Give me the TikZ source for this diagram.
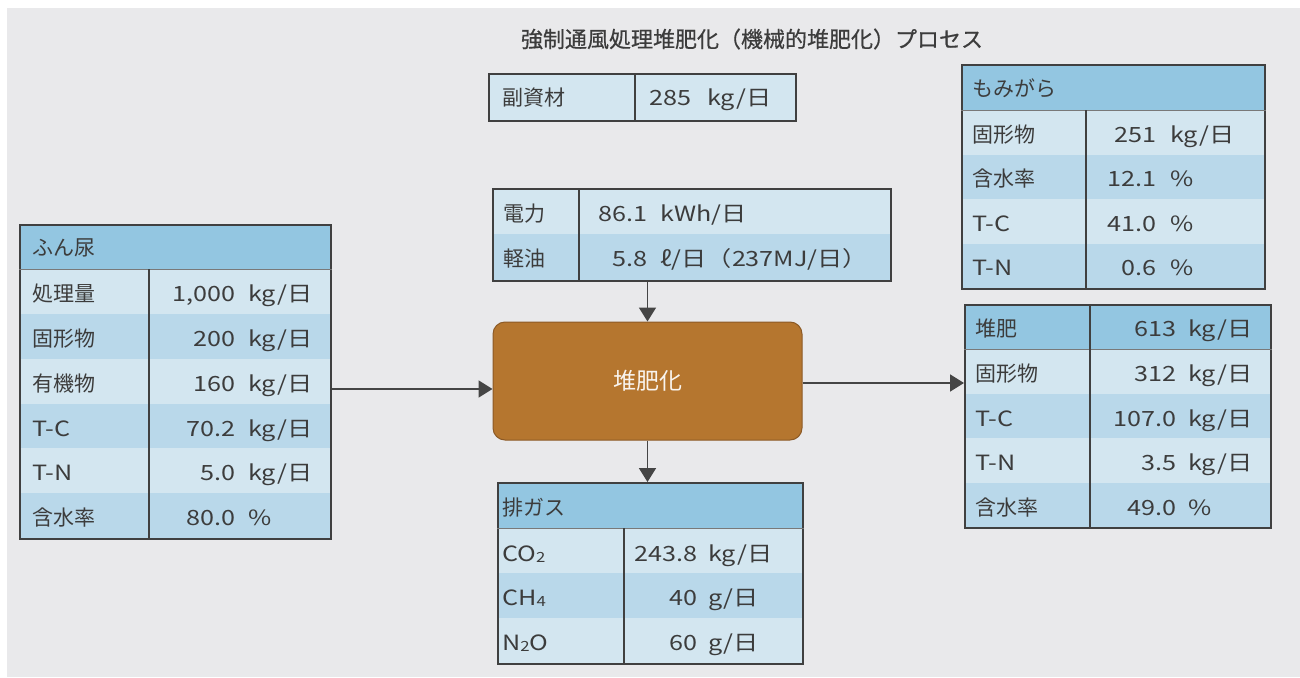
\documentclass[tikz,border=0pt]{standalone}
\usepackage{fontspec}
\setmainfont{Noto Sans CJK JP}
\newfontfamily\vf[FakeStretch=1.2]{Noto Sans CJK JP}
\newfontfamily\tf[FakeBold=0.6]{Noto Sans CJK JP}
\usetikzlibrary{arrows.meta}
\definecolor{bgc}{HTML}{E9E9EB}
\definecolor{hdr}{HTML}{93C6E1}
\definecolor{rowa}{HTML}{D3E6F0}
\definecolor{rowb}{HTML}{B9D8EA}
\definecolor{bord}{HTML}{404040}
\definecolor{txt}{HTML}{3C3C3C}
\definecolor{brn}{HTML}{B5762F}
\definecolor{brnd}{HTML}{8C5A26}
\definecolor{arrc}{HTML}{454545}
\newcommand\jsz{\fontsize{21}{25}\selectfont}
\newcommand\sub[1]{\raisebox{-1.5pt}{\fontsize{14}{14}\selectfont #1}}
\newcommand\rf[5]{\fill[#5] (#1,#2) rectangle (#3,#4);}
\newcommand\trow[8]{%
  \node[lbl] (#1-l) at (#2,#3) {#4};
  \node[num] (#1-n) at (#5,#3) {#6};
  \node[unit] (#1-u) at (#7,#3) {#8};}
\tikzset{
  txtbase/.style={inner sep=0pt, text=txt, text height=18pt, text depth=2pt},
  lbl/.style={txtbase, anchor=west, font=\jsz},
  num/.style={txtbase, anchor=east, font=\jsz\vf},
  unit/.style={txtbase, anchor=west, font=\jsz\vf},
  frame/.style={draw=bord, line width=2pt, inner sep=0pt, anchor=north west},
  divl/.style={draw=bord, line width=1.2pt},
  hline/.style={draw=bord!70, line width=0.8pt},
  arr/.style={draw=arrc, line width=1.8pt, -{Triangle[length=14pt,width=17pt]}},
}
\begin{document}
\begin{tikzpicture}[x=1pt,y=-1pt]
\useasboundingbox (0,0) rectangle (1300,677);
\fill[bgc] (7,8) rectangle (1300,677);

% title
\node[font=\fontsize{22}{26}\selectfont\tf, text=txt, inner sep=0pt] (title) at (752,39) {強制通風処理堆肥化（機械的堆肥化）プロセス};

% ---------- table A: ふん尿 ----------
\rf{19}{224}{330}{269}{hdr}
\rf{19}{269}{330}{313.8}{rowa}
\rf{19}{313.8}{330}{358.7}{rowb}
\rf{19}{358.7}{330}{403.5}{rowa}
\rf{19}{403.5}{330}{448.3}{rowb}
\rf{19}{448.3}{330}{493.2}{rowa}
\rf{19}{493.2}{330}{538}{rowb}
\node[frame, minimum width=311pt, minimum height=314pt] (fun) at (19,224) {};
\coordinate (funh) at (19,269);
\draw[hline] (funh) -- (funh -| fun.east);
\coordinate (fund) at (149,269);
\draw[divl] (fund) -- (fund |- fun.south);
\node[lbl] (fun-h) at (32,247) {ふん尿};
\trow{fa}{32}{293}{処理量}{236}{1,000}{248}{kg/日}
\trow{fb}{32}{338}{固形物}{236}{200}{248}{kg/日}
\trow{fc}{32}{383}{有機物}{236}{160}{248}{kg/日}
\trow{fd}{32}{428}{{\vf T-C}}{236}{70.2}{248}{kg/日}
\trow{fe}{32}{472}{{\vf T-N}}{236}{5.0}{248}{kg/日}
\trow{ff}{32}{517}{含水率}{236}{80.0}{248}{\%}

% ---------- table B: 副資材 ----------
\rf{488}{73}{795}{120}{rowa}
\node[frame, minimum width=307pt, minimum height=47pt] (sub) at (488,73) {};
\coordinate (subd) at (635,73);
\draw[divl] (subd) -- (subd |- sub.south);
\trow{sa}{502}{97}{副資材}{692}{285}{707}{kg/日}

% ---------- table C: 電力・軽油 ----------
\rf{492}{188}{890}{234}{rowa}
\rf{492}{234}{890}{280}{rowb}
\node[frame, minimum width=398pt, minimum height=92pt] (pow) at (492,188) {};
\coordinate (powd) at (579,188);
\draw[divl] (powd) -- (powd |- pow.south);
\trow{pa}{503}{213}{電力}{648}{86.1}{660}{kWh/日}
\trow{pb}{503}{258}{軽油}{648}{5.8}{660}{ℓ/日（237MJ/日）}

% ---------- process box ----------
\node[rounded corners=12pt, fill=brn, draw=brnd, line width=1pt,
      minimum width=309pt, minimum height=118pt, inner sep=0pt,
      text=white!92!brn, font=\fontsize{23}{27}\selectfont] (comp) at (647.5,381) {堆肥化};

% ---------- table D: 排ガス ----------
\rf{497}{482}{802}{528}{hdr}
\rf{497}{528}{802}{573}{rowa}
\rf{497}{573}{802}{618}{rowb}
\rf{497}{618}{802}{663}{rowa}
\node[frame, minimum width=305pt, minimum height=181pt] (gas) at (497,482) {};
\coordinate (gash) at (497,528);
\draw[hline] (gash) -- (gash -| gas.east);
\coordinate (gasd) at (624,528);
\draw[divl] (gasd) -- (gasd |- gas.south);
\node[lbl] (gas-h) at (502,507) {排ガス};
\trow{ga}{502}{553}{{\vf CO\sub{2}}}{698}{243.8}{708}{kg/日}
\trow{gb}{502}{597}{{\vf CH\sub{4}}}{698}{40}{708}{g/日}
\trow{gc}{502}{642}{{\vf N\sub{2}O}}{698}{60}{708}{g/日}

% ---------- table E: もみがら ----------
\rf{961}{64}{1264}{110}{hdr}
\rf{961}{110}{1264}{154.5}{rowa}
\rf{961}{154.5}{1264}{199}{rowb}
\rf{961}{199}{1264}{243.5}{rowa}
\rf{961}{243.5}{1264}{288}{rowb}
\node[frame, minimum width=303pt, minimum height=224pt] (mom) at (961,64) {};
\coordinate (momh) at (961,110);
\draw[hline] (momh) -- (momh -| mom.east);
\coordinate (momd) at (1086,110);
\draw[divl] (momd) -- (momd |- mom.south);
\node[lbl] (mom-h) at (972,88) {もみがら};
\trow{ma}{972}{134}{固形物}{1157}{251}{1170}{kg/日}
\trow{mb}{972}{178}{含水率}{1157}{12.1}{1170}{\%}
\trow{mc}{972}{223}{{\vf T-C}}{1157}{41.0}{1170}{\%}
\trow{md}{972}{267}{{\vf T-N}}{1157}{0.6}{1170}{\%}

% ---------- table F: 堆肥 ----------
\rf{964}{304}{1270}{349}{hdr}
\rf{964}{349}{1270}{393.5}{rowa}
\rf{964}{393.5}{1270}{438}{rowb}
\rf{964}{438}{1270}{482.5}{rowa}
\rf{964}{482.5}{1270}{527}{rowb}
\node[frame, minimum width=306pt, minimum height=223pt] (tai) at (964,304) {};
\coordinate (taih) at (964,349);
\draw[hline] (taih) -- (taih -| tai.east);
\coordinate (taid) at (1090,304);
\draw[divl] (taid) -- (taid |- tai.south);
\trow{ta}{975}{328}{堆肥}{1177}{613}{1188}{kg/日}
\trow{tb}{975}{373}{固形物}{1177}{312}{1188}{kg/日}
\trow{tc}{975}{418}{{\vf T-C}}{1177}{107.0}{1188}{kg/日}
\trow{td}{975}{462}{{\vf T-N}}{1177}{3.5}{1188}{kg/日}
\trow{te}{975}{507}{含水率}{1177}{49.0}{1188}{\%}

% ---------- arrows ----------
\draw[arr] ([yshift=-7pt]fun.east) -- ([yshift=-7pt]fun.east -| comp.west);
\draw[arr] ([yshift=-2pt]comp.east) -- ([yshift=-2pt]comp.east -| tai.west);
\draw[arr] (pow.south -| comp.north) -- (comp.north);
\draw[arr] (comp.south) -- (comp.south |- gas.north);
\end{tikzpicture}
\end{document}
